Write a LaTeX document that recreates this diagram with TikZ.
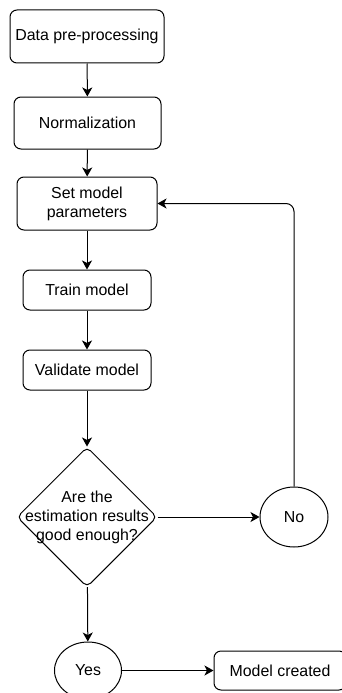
\documentclass[tikz,border=0pt]{standalone}
\usepackage{fontspec}
\setmainfont{Liberation Sans}
\usepackage{tikz}
\usetikzlibrary{arrows.meta, shapes.geometric, positioning}

\begin{document}
\begin{tikzpicture}[x=1pt, y=-1pt,
                    font=\fontsize{15.9}{19}\selectfont,
                    line width=1pt,
                    >={Stealth[length=9pt, width=10pt, inset=2.5pt]},
                    process/.style={draw, rounded corners=7pt, align=center, inner sep=0pt},
                    decision/.style={draw, diamond, rounded corners=5pt, align=center,
                                     minimum width=140pt, minimum height=140pt, inner sep=-25pt},
                    outcome/.style={draw, ellipse, inner sep=0pt}]
                            \useasboundingbox (0, 0) rectangle (342, 693);

                            \node[process, minimum width=154pt, minimum height=53pt] (prep) at (87, 36.5) {Data pre-processing};
                            \node[process, minimum width=147pt, minimum height=52pt] (norm) at (87.5, 123) {Normalization};
                            \node[process, minimum width=140pt, minimum height=53pt] (params) at (87, 203.5) {Set model\\parameters};
                            \node[process, minimum width=128pt, minimum height=40pt] (train) at (87, 290) {Train model};
                            \node[process, minimum width=128pt, minimum height=40pt] (valid) at (87, 370) {Validate model};
                            \node[decision] (check) at (87, 517) {Are the\\estimation results\\good enough?};
                            \node[outcome, minimum width=68pt, minimum height=60pt] (no) at (294, 517) {No};
                            \node[outcome, minimum width=67pt, minimum height=57pt] (yes) at (88, 670.5) {Yes};
                            \node[process, minimum width=132pt, minimum height=39pt] (done) at (280, 670.5) {Model created};

                            \draw
                            (prep) edge[->] (norm)
                            (norm) edge[->] (params)
                            (params) edge[->] (train)
                            (train) edge[->] (valid)
                            (valid) edge[->] (check)
                            (check) edge[->] (no)
                            (check) edge[->] (yes)
                            (yes) edge[->] (done);
                            \draw[->, rounded corners=8pt] (no.north) |- (params.east);
                        \end{tikzpicture}
\end{document}
